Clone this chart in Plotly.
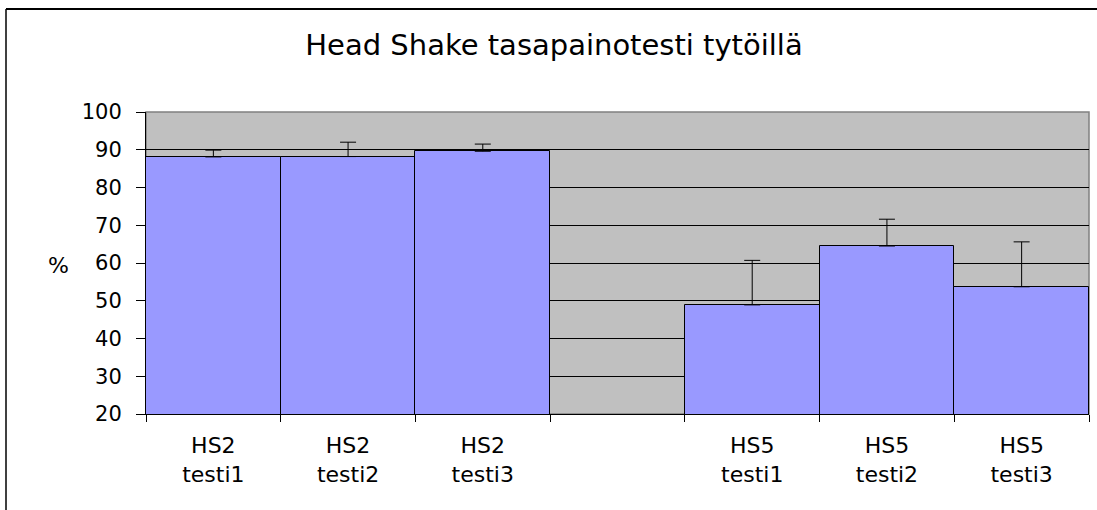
import plotly.graph_objects as go

categories = ["HS2<br>testi1", "HS2<br>testi2", "HS2<br>testi3", " ",
              "HS5<br>testi1", "HS5<br>testi2", "HS5<br>testi3"]
values = [88.1, 88.2, 89.6, None, 48.9, 64.5, 53.7]
errors_plus = [1.8, 3.8, 1.9, None, 11.8, 7.1, 11.9]

FONT = "DejaVu Sans, Arial, sans-serif"

fig = go.Figure()
fig.add_trace(go.Bar(
    x=categories, y=values,
    marker=dict(color="#9999FF", line=dict(color="black", width=1)),
    error_y=dict(type="data", array=errors_plus,
                 arrayminus=[0 if e is not None else None for e in errors_plus],
                 symmetric=False, color="black", thickness=1, width=8),
    showlegend=False,
))

fig.update_layout(
    width=1097, height=510,
    margin=dict(l=146, r=8, t=112, b=96),
    paper_bgcolor="white", plot_bgcolor="#C0C0C0",
    bargap=0,
    font=dict(family=FONT, color="black", size=21),
    title=dict(text="Head Shake tasapainotesti tytöillä", x=554 / 1097, xanchor="center",
               y=1 - 45 / 510, yanchor="middle", font=dict(size=29, family=FONT)),
)
fig.update_xaxes(
    type="category", categoryorder="array", categoryarray=categories,
    showline=True, linecolor="black", linewidth=1,
    ticks="outside", tickson="boundaries", ticklen=7, tickcolor="black",
    showgrid=False, tickfont=dict(size=22), ticklabelstandoff=12,
)
fig.update_yaxes(
    range=[20, 100], dtick=10, tick0=20,
    showline=True, linecolor="black", linewidth=1,
    ticks="outside", ticklen=9, tickcolor="black",
    showgrid=True, gridcolor="black", gridwidth=1,
    tickfont=dict(size=21), ticklabelstandoff=10, zeroline=False,
)
# plot area border (grey) top/right
fig.add_shape(type="rect", xref="paper", yref="paper", x0=0, x1=1, y0=0, y1=1,
              line=dict(color="#808080", width=1.5), layer="below")
# outer chart border (top and left edges visible)
top_y = (414 - 9) / 302
left_x = (6 - 146) / 943
fig.add_shape(type="line", xref="paper", yref="paper",
              x0=left_x, x1=1.05, y0=top_y, y1=top_y,
              line=dict(color="black", width=2))
fig.add_shape(type="line", xref="paper", yref="paper",
              x0=left_x, x1=left_x, y0=-0.4, y1=top_y,
              line=dict(color="black", width=1.5))
fig.add_annotation(text="%", xref="paper", yref="paper",
                   x=(58 - 146) / 943, y=(414 - 265) / 302,
                   xanchor="center", yanchor="middle", showarrow=False,
                   font=dict(size=22, family=FONT))

fig.write_html("out.html", config={"displayModeBar": False},
               post_script="document.body.style.margin='0';document.body.style.overflow='hidden';")
